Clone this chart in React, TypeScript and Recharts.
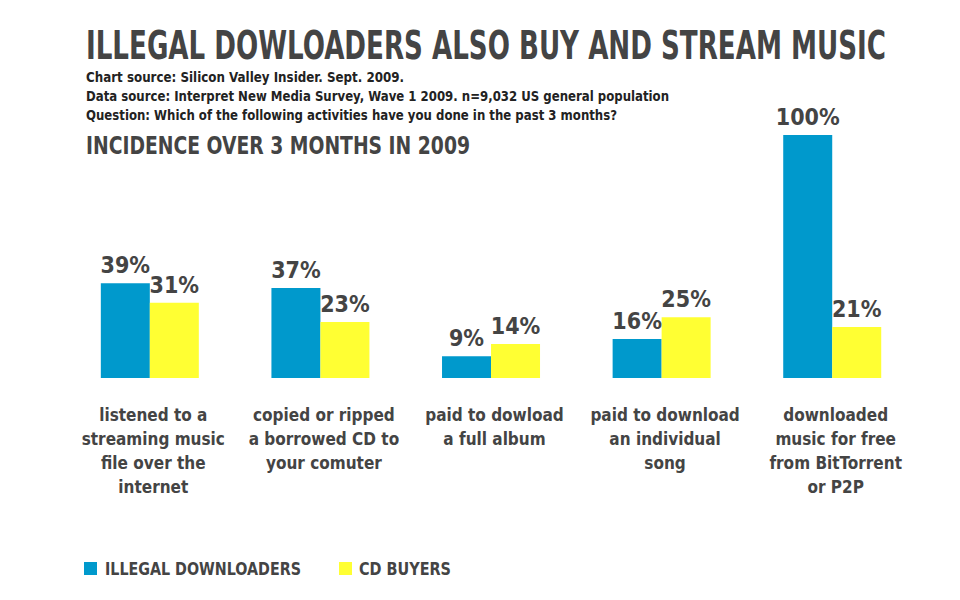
import React from "react";
import { BarChart, Bar, XAxis, YAxis, LabelList } from "recharts";

const categories = [
  "listened to a\nstreaming music\nfile over the\ninternet",
  "copied or ripped\na borrowed CD to\nyour comuter",
  "paid to dowload\na full album",
  "paid to download\nan individual\nsong",
  "downloaded\nmusic for free\nfrom BitTorrent\nor P2P",
];
const illegalDownloaders = [39, 37, 9, 16, 100];
const cdBuyers = [31, 23, 14, 25, 21];

const data = categories.map((c, i) => ({
  category: c,
  illegal: illegalDownloaders[i],
  cd: cdBuyers[i],
}));

const FONT = "'Liberation Sans Narrow', 'DejaVu Sans Condensed', 'Roboto', sans-serif";
const TEXT = "#444444";
const BLUE = "#0099CC";
const YELLOW = "#FFFF33";

const CategoryTick = (props: any) => {
  const { x, y, payload } = props;
  const lines = String(payload.value).split("\n");
  return (
    <g>
      {lines.map((ln: string, i: number) => (
        <text
          key={i}
          x={x + 3}
          y={y + 43 + i * 24}
          textAnchor="middle"
          fontFamily={FONT}
          fontWeight="bold"
          fontSize={17}
          fill={TEXT}
        >
          {ln}
        </text>
      ))}
    </g>
  );
};

const ValueLabel = (props: any) => {
  const { x, y, width, value } = props;
  return (
    <text
      x={x + width / 2}
      y={y - 10}
      textAnchor="middle"
      fontFamily={FONT}
      fontWeight="bold"
      fontSize={23}
      fill={TEXT}
    >
      {value}%
    </text>
  );
};

export default function App() {
  return (
    <div style={{ position: "absolute", left: 0, top: 0, width: 960, height: 600, background: "#fff" }}>
      <BarChart
        width={960}
        height={600}
        data={data}
        margin={{ top: 135, right: 42, bottom: 92, left: 65 }}
        barGap={0}
        barCategoryGap="21%"
      >
        <XAxis
          dataKey="category"
          axisLine={false}
          tickLine={false}
          tickSize={0}
          tickMargin={0}
          height={130}
          interval={0}
          tick={<CategoryTick />}
        />
        <YAxis hide domain={[0, 100]} />
        <Bar dataKey="illegal" fill={BLUE} isAnimationActive={false}>
          <LabelList dataKey="illegal" content={<ValueLabel />} />
        </Bar>
        <Bar dataKey="cd" fill={YELLOW} isAnimationActive={false}>
          <LabelList dataKey="cd" content={<ValueLabel />} />
        </Bar>
      </BarChart>
      <svg
        width={960}
        height={600}
        style={{ position: "absolute", left: 0, top: 0, pointerEvents: "none" }}
      >
        <g transform="translate(86,59) scale(1,1.26)">
          <text x={0} y={0} fontFamily={FONT} fontWeight="bold" fontSize={31} fill={TEXT} textLength={800} lengthAdjust="spacingAndGlyphs">
            ILLEGAL DOWLOADERS ALSO BUY AND STREAM MUSIC
          </text>
        </g>
        <text x={86} y={82} fontFamily={FONT} fontWeight="bold" fontSize={14} fill="#222" textLength={318} lengthAdjust="spacingAndGlyphs">
          Chart source: Silicon Valley Insider. Sept. 2009.
        </text>
        <text x={86} y={101} fontFamily={FONT} fontWeight="bold" fontSize={14} fill="#222" textLength={583} lengthAdjust="spacingAndGlyphs">
          Data source: Interpret New Media Survey, Wave 1 2009. n=9,032 US general population
        </text>
        <text x={86} y={120} fontFamily={FONT} fontWeight="bold" fontSize={14} fill="#222" textLength={531} lengthAdjust="spacingAndGlyphs">
          Question: Which of the following activities have you done in the past 3 months?
        </text>
        <text x={86} y={154} fontFamily={FONT} fontWeight="bold" fontSize={25} fill={TEXT} textLength={384} lengthAdjust="spacingAndGlyphs">
          INCIDENCE OVER 3 MONTHS IN 2009
        </text>
        <rect x={84} y={562} width={13} height={13} fill={BLUE} />
        <text x={105} y={575} fontFamily={FONT} fontWeight="bold" fontSize={18} fill={TEXT} textLength={196} lengthAdjust="spacingAndGlyphs">
          ILLEGAL DOWNLOADERS
        </text>
        <rect x={339} y={562} width={13} height={13} fill={YELLOW} />
        <text x={359} y={575} fontFamily={FONT} fontWeight="bold" fontSize={18} fill={TEXT} textLength={92} lengthAdjust="spacingAndGlyphs">
          CD BUYERS
        </text>
      </svg>
    </div>
  );
}
